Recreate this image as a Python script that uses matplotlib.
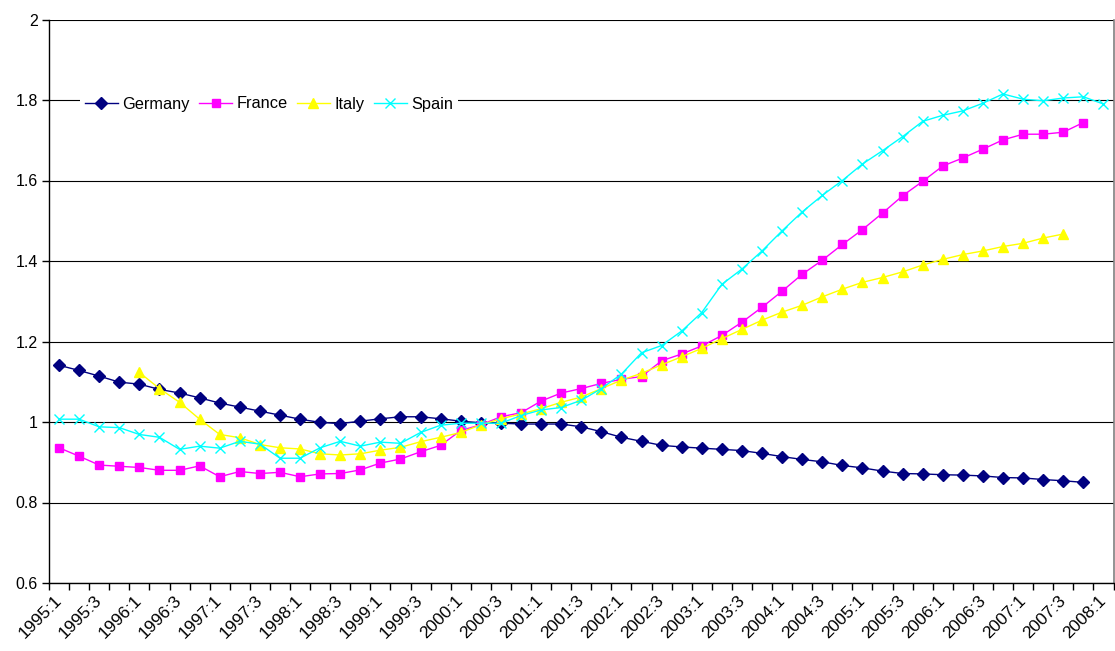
import matplotlib
matplotlib.use("Agg")
import matplotlib.pyplot as plt
from matplotlib.ticker import FixedLocator, FuncFormatter
import numpy as np

plt.rcParams['font.family'] = ['Liberation Sans', 'DejaVu Sans']

# Quarterly categories 1995:1 .. 2008:1
quarters = [f"{y}:{q}" for y in range(1995, 2009) for q in (1, 2, 3, 4)][:53]

germany = [1.141, 1.128, 1.114, 1.099, 1.094, 1.081, 1.072, 1.060, 1.047, 1.037,
           1.027, 1.017, 1.007, 0.999, 0.996, 1.002, 1.008, 1.013, 1.013, 1.008,
           1.002, 0.998, 0.997, 0.995, 0.995, 0.995, 0.988, 0.976, 0.962, 0.952,
           0.942, 0.938, 0.935, 0.932, 0.929, 0.922, 0.914, 0.907, 0.901, 0.892,
           0.886, 0.878, 0.872, 0.871, 0.869, 0.868, 0.866, 0.862, 0.861, 0.857,
           0.854, 0.850]
germany_start = "1995:1"

france = [0.936, 0.915, 0.893, 0.890, 0.887, 0.880, 0.880, 0.891, 0.864, 0.877,
          0.872, 0.875, 0.864, 0.871, 0.872, 0.881, 0.898, 0.908, 0.926, 0.942,
          0.979, 0.993, 1.013, 1.023, 1.052, 1.072, 1.083, 1.096, 1.106, 1.113,
          1.152, 1.169, 1.189, 1.215, 1.248, 1.285, 1.325, 1.367, 1.402, 1.441,
          1.478, 1.519, 1.562, 1.598, 1.636, 1.656, 1.678, 1.701, 1.715, 1.715,
          1.720, 1.744]
france_start = "1995:1"

italy = [1.123, 1.083, 1.049, 1.007, 0.969, 0.961, 0.944, 0.936, 0.933, 0.921,
         0.918, 0.921, 0.930, 0.937, 0.951, 0.962, 0.974, 0.993, 1.008, 1.020,
         1.033, 1.049, 1.062, 1.083, 1.104, 1.121, 1.142, 1.162, 1.183, 1.207,
         1.230, 1.253, 1.273, 1.290, 1.311, 1.330, 1.347, 1.359, 1.373, 1.390,
         1.404, 1.416, 1.425, 1.436, 1.444, 1.457, 1.467]
italy_start = "1996:1"

spain = [1.007, 1.007, 0.988, 0.986, 0.969, 0.962, 0.932, 0.940, 0.935, 0.952,
         0.945, 0.910, 0.910, 0.936, 0.952, 0.940, 0.950, 0.947, 0.974, 0.992,
         0.997, 0.997, 0.997, 1.016, 1.030, 1.036, 1.054, 1.083, 1.119, 1.172,
         1.190, 1.226, 1.272, 1.342, 1.380, 1.425, 1.475, 1.522, 1.563, 1.600,
         1.641, 1.674, 1.709, 1.747, 1.762, 1.773, 1.792, 1.815, 1.802, 1.798,
         1.805, 1.808, 1.790]
spain_start = "1995:1"

y_ticks = [0.6, 0.8, 1.0, 1.2, 1.4, 1.6, 1.8, 2.0]

W, H = 1115, 651
fig = plt.figure(figsize=(W / 100, H / 100), dpi=100)
ax = fig.add_axes([49 / W, 1 - 583 / H, (1113.5 - 49) / W, (583 - 19.5) / H])

series = [
    ("Germany", germany, germany_start, "#000080", "D", 6.0, "#000080"),
    ("France", france, france_start, "#FF00FF", "s", 5.8, "#FF00FF"),
    ("Italy", italy, italy_start, "#FFFF00", "^", 7.0, "#FFFF00"),
    ("Spain", spain, spain_start, "#00FFFF", "x", 6.5, "#00FFFF"),
]
for name, vals, start, col, mk, ms, mec in series:
    i0 = quarters.index(start)
    x = np.arange(i0, i0 + len(vals))
    ax.plot(x, vals, color=col, lw=1.0, marker=mk, ms=ms, mfc=col, mec=mec,
            mew=1.0, label=name, zorder=3)

n = len(quarters)
ax.set_xlim(-0.5, n - 0.5)
ax.set_ylim(0.6, 2.0)

ax.yaxis.set_major_locator(FixedLocator(y_ticks))
ax.yaxis.set_major_formatter(FuncFormatter(lambda v, p: f"{v:g}"))
ax.grid(axis='y', color='black', lw=0.8, zorder=1)
ax.set_axisbelow(True)

ax.set_xticks(np.arange(0, n, 2))
ax.set_xticklabels(quarters[::2], rotation=45, ha='right', va='center',
                   rotation_mode='anchor')
ax.set_xticks(np.arange(-0.5, n, 1), minor=True)
ax.tick_params(axis='x', which='major', length=0, pad=11, labelsize=12.5)
ax.tick_params(axis='x', which='minor', length=5, width=1, direction='out')
ax.tick_params(axis='y', which='major', length=5, width=1, direction='out',
               labelsize=11.5, pad=3)

for s in ('left', 'bottom'):
    ax.spines[s].set_color('black')
    ax.spines[s].set_linewidth(1.0)
ax.spines['right'].set_color('#808080')
ax.spines['right'].set_linewidth(1.2)
ax.spines['top'].set_visible(False)

leg = ax.legend(loc='center left', bbox_to_anchor=(80 / W, 1 - 104 / H),
                bbox_transform=fig.transFigure, ncol=4, frameon=True,
                fancybox=False, edgecolor='none', facecolor='white',
                framealpha=1.0, fontsize=11.8, handlelength=2.0,
                handletextpad=0.3, columnspacing=0.55, borderpad=0.3,
                borderaxespad=0)
leg.set_zorder(5)

fig.savefig("out.png", dpi=100)
